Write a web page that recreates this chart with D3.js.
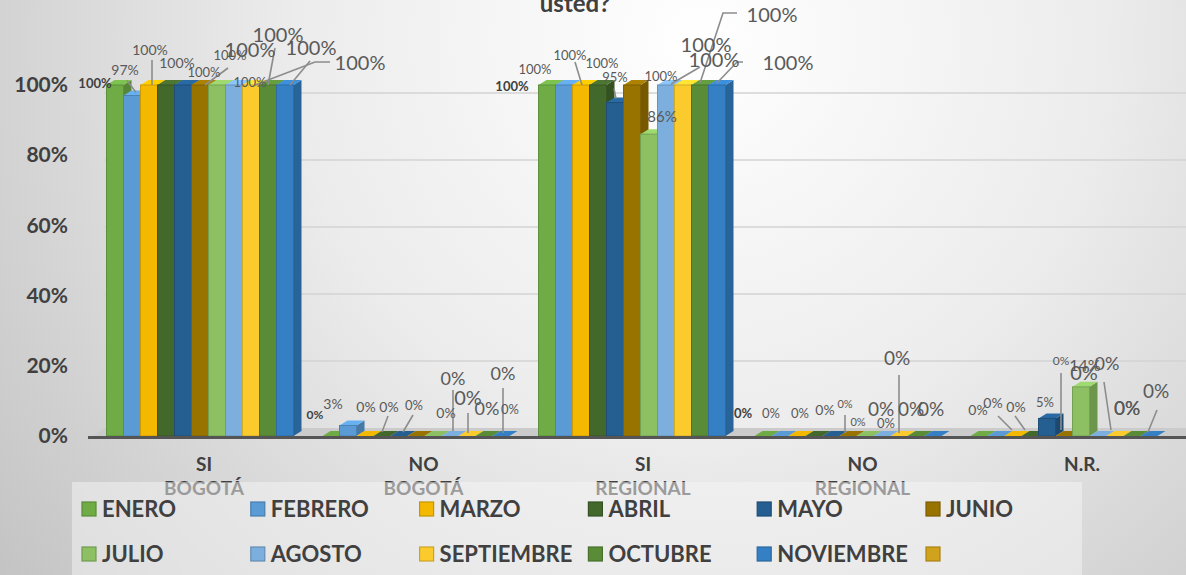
<!DOCTYPE html>
<html><head><meta charset="utf-8">
<script src="https://cdn.jsdelivr.net/npm/d3@7"></script>
<style>html,body{margin:0;padding:0;overflow:hidden;background:#fff}svg{display:block;font-family:Lato,'Open Sans',sans-serif}</style>
</head><body><svg id="c" width="1186" height="575"></svg>
<script>
// ---------- DATA ----------
const titleText = "usted?";
const categories = ["SI BOGOTÁ", "NO BOGOTÁ", "SI REGIONAL", "NO REGIONAL", "N.R."];
const months = ["ENERO","FEBRERO","MARZO","ABRIL","MAYO","JUNIO","JULIO","AGOSTO","SEPTIEMBRE","OCTUBRE","NOVIEMBRE",""];
const enero      = [1.00, 0.00, 1.00, 0, 0.00];
const febrero    = [0.97, 0.03, 1.00, 0, 0.00];
const marzo      = [1.00, 0.00, 1.00, 0, 0.00];
const abril      = [1.00, 0.00, 1.00, 0, 0.00];
const mayo       = [1.00, 0.00, 0.95, 0, 0.05];
const junio      = [1.00, 0.00, 1.00, 0, 0.00];
const julio      = [1.00, 0.00, 0.86, 0, 0.14];
const agosto     = [1.00, 0.00, 1.00, 0, 0.00];
const septiembre = [1.00, 0.00, 1.00, 0, 0.00];
const octubre    = [1.00, 0.00, 1.00, 0, 0.00];
const noviembre  = [1.00, 0.00, 1.00, 0, 0.00];
const seriesValues = [enero, febrero, marzo, abril, mayo, junio, julio, agosto, septiembre, octubre, noviembre];
const yTicks = [0, 0.2, 0.4, 0.6, 0.8, 1];

// ---------- STYLE ----------
const colors = ["#6fac46","#5b9bd5","#f5b800","#43682b","#255e91","#997300","#8cc063","#7cafdd","#fbcb2e","#5a8c38","#3580c4","#d1a21c"];
// label layout per category / series: [dx, dy, fontSize, bold, leaderPoints] relative to bar top centre
const labelLayout = [
  [[-20,3,13,1],[-7,-21,14,0,[[-5,-15],[4,-3]]],[1,-30,14,0,[[3,-25],[3,0]]],[11,-17,14,0],[21,-8,13,0],
   [30,-25,13,0,[[5,0],[28,-17]]],[33,-28,20,0],[16,2,13,0],[109,-15,20,0,[[4,0],[64,-23],[79,-23]]],
   [10,-43,20,0,[[0,0],[7,-37]]],[26,-30,20,0,[[5,0],[25,-24]]]],
  [[-16,-17,12,1],[-15,-16,14,0],[1,-24,14,0],[7,-24,14,0,[[6,-20],[0,-4]]],[15,-26,13,0,[[14,-21],[4,-4]]],
   [30,-18,14,0],[20,-51,18,0,[[20,-46],[20,-5]]],[18,-31,20,0,[[18,-23],[18,-3]]],[20,-21,18,0],
   [19,-56,18,0,[[19,-48],[19,-3]]],[9,-22,13,0]],
  [[-35,6,13,1],[-29,-11,13,0],[-11,-25,13,0,[[-6,-23],[1,0]]],[4,-17,13,0],[0,-21,13,0,[[-1,-14],[1,-4]]],
   [82,-18,20,0],[13,-12,15,0],[-5,-4,13,0],[23,-33,20,0,[[-12,-1],[17,-18]]],
   [72,-63,20,0,[[0,-2],[23,-72],[37,-72]]],[71,-15,20,0,[[0,-2],[20,-23],[26,-23]]]],
  [[-20,-18,13,1],[-9,-18,13,0],[3,-18,13,0],[11,-21,14,0],[14,-28,11,0,[[14,-21],[14,-3]]],
   [10,-10,11,0],[16,-20,19,0],[4,-8,13,0],[-2,-71,19,0,[[0,-61],[0,-3]]],[-5,-20,19,0],[-2,-20,19,0]],
  [[-1,-21,14,0],[-3,-28,14,0,[[2,-20],[16,-6]]],[3,-24,14,0,[[2,-20],[12,-6]]],[31,-71,12,0,[[31,-63],[31,-6]]],
   [-2,-11,13,0],[20,-56,20,0],[4,-16,16,0],[9,-66,18,0,[[6,-54],[13,-6]]],[12,-21,19,0],
   [24,-38,19,0,[[25,-26],[16,-4]]],[-22,-21,19,0]]
];

const W = 1186, H = 575;
const svg = d3.select("#c");
const defs = svg.append("defs");
const rg = defs.append("radialGradient").attr("id","bg").attr("gradientUnits","userSpaceOnUse")
  .attr("cx",700).attr("cy",40).attr("r",900);
rg.append("stop").attr("offset","0").attr("stop-color","#ffffff");
rg.append("stop").attr("offset","0.45").attr("stop-color","#ececec");
rg.append("stop").attr("offset","1").attr("stop-color","#c2c2c2");
svg.append("rect").attr("width",W).attr("height",H).attr("fill","url(#bg)");

// scales
const x0 = d3.scaleBand().domain(categories).range([92, 1172]);
const x1 = d3.scaleBand().domain(d3.range(seriesValues.length)).range([-93.5, 93.5]);
const y = d3.scaleLinear().domain([0,1]).range([436, 85]);
const yBack = d3.scaleLinear().domain([0,1]).range([428, 93]);
const DX = 8, DY = 5;

// back wall gridlines
svg.append("g").selectAll("line").data(yTicks.slice(1)).join("line")
  .attr("x1",104).attr("x2",W).attr("y1",d=>yBack(d)).attr("y2",d=>yBack(d))
  .attr("stroke","#d3d3d3").attr("stroke-width",1.3);
// floor
svg.append("polygon").attr("points",[[92,437],[104,428],[W,428],[W,437]].join(" ")).attr("fill","#cbcbcb");

// y axis labels
const yAxis = d3.axisLeft(y).tickValues(yTicks).tickFormat(d3.format(".0%")).tickSize(0).tickPadding(0);
const ga = svg.append("g").attr("transform","translate(68,0)").call(yAxis);
ga.select(".domain").remove();
ga.selectAll("text").attr("font-size",21).attr("font-weight","bold").attr("fill","#404040")
  .attr("font-family","Lato,'Open Sans',sans-serif");

// bars
const gBars = svg.append("g");
categories.forEach((cat, ci) => {
  const cxCat = x0(cat) + x0.bandwidth()/2;
  seriesValues.forEach((vals, si) => {
    const v = vals[ci];
    const x = cxCat + x1(si), w = x1.bandwidth();
    const yt = y(v), yb = y(0);
    const c = d3.color(colors[si]);
    if (v > 0) {
      gBars.append("polygon").attr("points",[[x+w,yt],[x+w+DX,yt-DY],[x+w+DX,yb-DY],[x+w,yb]].join(" "))
        .attr("fill", c.darker(0.7));
    }
    gBars.append("polygon").attr("points",[[x,yt],[x+DX,yt-DY],[x+w+DX,yt-DY],[x+w,yt]].join(" "))
      .attr("fill", v > 0 ? c.brighter(0.35) : c);
    if (v > 0) {
      gBars.append("rect").attr("x",x).attr("y",yt).attr("width",w).attr("height",yb-yt)
        .attr("fill", c).attr("stroke", c.darker(0.5)).attr("stroke-width",1);
    }
  });
});

// axis line
svg.append("line").attr("x1",88).attr("x2",W).attr("y1",437.5).attr("y2",437.5)
  .attr("stroke","#555").attr("stroke-width",3);

// data labels
const gLab = svg.append("g");
const fmt = d3.format(".0%");
categories.forEach((cat, ci) => {
  const cxCat = x0(cat) + x0.bandwidth()/2;
  seriesValues.forEach((vals, si) => {
    const v = vals[ci];
    const cx = cxCat + x1(si) + x1.bandwidth()/2, yt = y(v);
    const L = labelLayout[ci][si];
    if (L[4]) {
      gLab.append("polyline").attr("points", L[4].map(p=>[cx+p[0], yt+p[1]]).join(" "))
        .attr("fill","none").attr("stroke","#8c8c8c").attr("stroke-width",1.6);
    }
  });
  seriesValues.forEach((vals, si) => {
    const v = vals[ci];
    const cx = cxCat + x1(si) + x1.bandwidth()/2, yt = y(v);
    const L = labelLayout[ci][si];
    gLab.append("text").attr("x",cx+L[0]).attr("y",yt+L[1]).attr("text-anchor","middle")
      .attr("font-size",L[2]).attr("font-weight",L[3]?"bold":"normal")
      .attr("fill",L[3]?"#404040":"#595959").text(fmt(v));
  });
});

// category labels
const gCat = svg.append("g");
categories.forEach((cat, ci) => {
  const cx = x0(cat) + x0.bandwidth()/2 + 4 + ci*3.5;
  const parts = cat.split(" ");
  gCat.append("text").attr("x",cx).attr("y",471).attr("text-anchor","middle")
    .attr("font-size",19).attr("font-weight","bold").attr("fill","#404040").text(parts[0]);
  if (parts[1]) gCat.append("text").attr("x",cx).attr("y",495).attr("text-anchor","middle")
    .attr("font-size",19).attr("font-weight","bold").attr("fill","#404040").text(parts[1]);
});

// legend
svg.append("rect").attr("x",72).attr("y",482).attr("width",1010).attr("height",95)
  .attr("fill","#f6f6f6").attr("opacity",0.5);
const gLeg = svg.append("g");
months.forEach((m, i) => {
  const lx = 82 + (i % 6) * 168.8, ly = i < 6 ? 509 : 554;
  gLeg.append("rect").attr("x",lx).attr("y",ly-7).attr("width",14).attr("height",14)
    .attr("fill",colors[i]).attr("stroke",d3.color(colors[i]).darker(0.6)).attr("stroke-width",1.2);
  gLeg.append("text").attr("x",lx+20).attr("y",ly+8).attr("font-size",22).attr("font-weight","bold")
    .attr("fill","#404040").text(m);
});

// title (cut off at top)
svg.append("text").attr("x",575).attr("y",12).attr("text-anchor","middle").attr("font-size",24)
  .attr("font-weight","bold").attr("fill","#404040").text(titleText);
</script></body></html>
